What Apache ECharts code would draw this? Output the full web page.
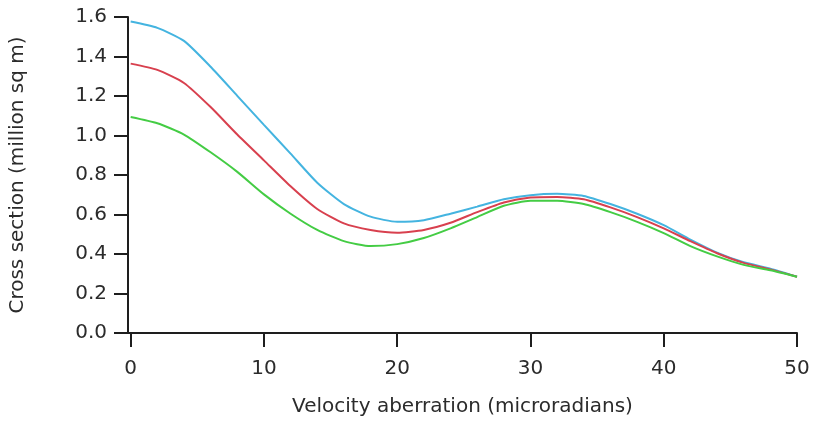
<!DOCTYPE html>
<html>
<head>
<meta charset="utf-8">
<script src="https://cdn.jsdelivr.net/npm/echarts@6/dist/echarts.min.js"></script>
<style>
  html, body { margin: 0; padding: 0; background: #fff; }
  #main { width: 816px; height: 422px; }
</style>
</head>
<body>
<div id="main"></div>
<script>
// velocity aberration (microradians), sampled every 2
var xValues = [0, 2, 4, 6, 8, 10, 12, 14, 16, 18, 20, 22, 24, 26, 28, 30, 32, 34, 36, 38, 40, 42, 44, 46, 48, 50];
var xTicks = [0, 10, 20, 30, 40, 50];
var yTicks = [0, 0.2, 0.4, 0.6, 0.8, 1.0, 1.2, 1.4, 1.6];

// cross section (million sq m)
var blueVals = [1.577, 1.545, 1.479, 1.348, 1.201, 1.054, 0.908, 0.761, 0.653, 0.589, 0.563,
  0.571, 0.604, 0.640, 0.677, 0.698, 0.705, 0.694, 0.653, 0.604, 0.546, 0.473, 0.407, 0.358, 0.326, 0.285];
var redVals = [1.364, 1.332, 1.266, 1.144, 1.005, 0.874, 0.743, 0.628, 0.555, 0.522, 0.508,
  0.522, 0.558, 0.612, 0.661, 0.686, 0.689, 0.677, 0.636, 0.587, 0.530, 0.465, 0.404, 0.355, 0.322, 0.285];
var greenVals = [1.094, 1.062, 1.005, 0.915, 0.816, 0.702, 0.604, 0.522, 0.465, 0.440, 0.450,
  0.481, 0.530, 0.587, 0.644, 0.669, 0.669, 0.653, 0.612, 0.563, 0.506, 0.440, 0.388, 0.345, 0.318, 0.285];

function pairs(vals) {
  return xValues.map(function(x, i) { return [x, vals[i]]; });
}

var chart = echarts.init(document.getElementById('main'));
var font = 'DejaVu Sans, Verdana, sans-serif';
var textColor = '#2b2b2b';
var axisColor = '#1e1e1e';

var option = {
  animation: false,
  backgroundColor: '#fff',
  grid: { left: 125, right: 19, top: 17, bottom: 79, containLabel: false },
  xAxis: {
    type: 'value',
    min: -0.2,
    max: 50,
    name: 'Velocity aberration (microradians)',
    nameLocation: 'middle',
    nameGap: 64,
    nameTextStyle: { color: textColor, fontSize: 20, fontFamily: font },
    axisLine: { show: true, onZero: false, lineStyle: { color: axisColor, width: 2 } },
    axisTick: { show: true, length: 14, lineStyle: { color: axisColor, width: 2 }, customValues: xTicks },
    axisLabel: { color: textColor, fontSize: 20, fontFamily: font, margin: 26, customValues: xTicks },
    splitLine: { show: false }
  },
  yAxis: {
    type: 'value',
    min: yTicks[0],
    max: yTicks[yTicks.length - 1],
    interval: 0.2,
    name: 'Cross section (million sq m)',
    nameLocation: 'middle',
    nameGap: 100,
    nameTextStyle: { color: textColor, fontSize: 20, fontFamily: font },
    axisLine: { show: true, onZero: false, lineStyle: { color: axisColor, width: 2 } },
    axisTick: { show: true, length: 14, lineStyle: { color: axisColor, width: 2 } },
    axisLabel: {
      color: textColor, fontSize: 20, fontFamily: font, margin: 21,
      formatter: function(v) { return v.toFixed(1); }
    },
    splitLine: { show: false }
  },
  series: [
    { name: 'blue', type: 'line', data: pairs(blueVals), showSymbol: false, smooth: 0.2,
      lineStyle: { color: '#44b4e0', width: 2 }, itemStyle: { color: '#44b4e0' } },
    { name: 'red', type: 'line', data: pairs(redVals), showSymbol: false, smooth: 0.2,
      lineStyle: { color: '#d8404e', width: 2 }, itemStyle: { color: '#d8404e' } },
    { name: 'green', type: 'line', data: pairs(greenVals), showSymbol: false, smooth: 0.2,
      lineStyle: { color: '#44cc44', width: 2 }, itemStyle: { color: '#44cc44' } }
  ]
};
chart.setOption(option);
</script>
</body>
</html>
